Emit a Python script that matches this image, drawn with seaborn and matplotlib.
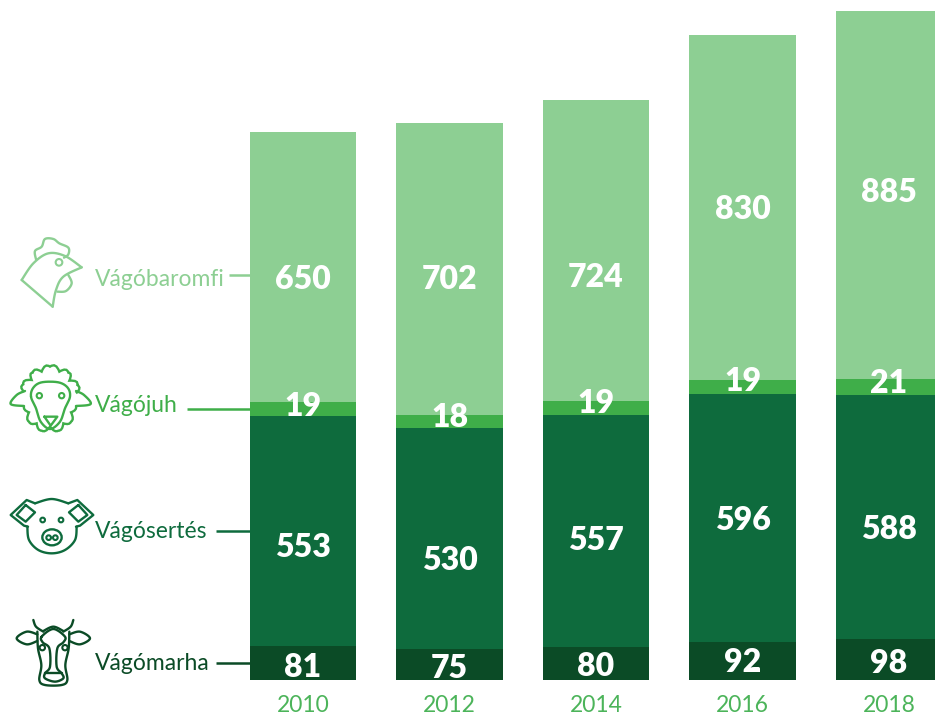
import matplotlib
matplotlib.use("Agg")
import numpy as np
import pandas as pd
import matplotlib.pyplot as plt
import seaborn as sns
from matplotlib.patches import Circle, Ellipse, PathPatch
from matplotlib.path import Path
from matplotlib.transforms import blended_transform_factory

YEARS = ["2010", "2012", "2014", "2016", "2018"]
MARHA = [81, 75, 80, 92, 98]
SERTES = [553, 530, 557, 596, 588]
JUH = [19, 18, 19, 19, 21]
# the reference draws the thin band thicker than its labels say
JUH_BAR = [34, 32, 34, 33, 37]
BAROMFI = [650, 702, 724, 830, 885]
SERIES_NAMES = ["Vágómarha", "Vágósertés", "Vágójuh", "Vágóbaromfi"]

C_MARHA = "#0B4B26"
C_SERTES = "#0E6B3D"
C_JUH = "#3FAE49"
C_BAROMFI = "#8DCF93"
COLORS = [C_MARHA, C_SERTES, C_JUH, C_BAROMFI]

# where the value labels sit, in image pixels (they are not centred in the segments)
LABEL_Y = {
    "Vágómarha": [665, 666, 664, 660, 661],
    "Vágósertés": [545, 558, 538, 518, 527],
    "Vágójuh": [404, 415, 401, 379, 381],
    "Vágóbaromfi": [277, 277, 275, 207, 190],
}

W, H = 935, 715
sns.set_theme(style="white")
plt.rcParams["font.family"] = ["Lato", "DejaVu Sans"]

fig = plt.figure(figsize=(W / 100, H / 100), dpi=100)
base_px = 680
ax = fig.add_axes([0, (H - base_px) / H, 1, base_px / H])

df = pd.DataFrame({"year": YEARS, "Vágómarha": MARHA, "Vágósertés": SERTES,
                   "Vágójuh": JUH_BAR, "Vágóbaromfi": BAROMFI})
bottom = np.zeros(len(YEARS))
for name, col in zip(SERIES_NAMES, COLORS):
    sns.barplot(data=df, x="year", y=name, bottom=bottom, color=col,
                saturation=1, width=0.724, linewidth=0, edgecolor="none", ax=ax)
    bottom = bottom + df[name].to_numpy()

# scale : 146.5 px per category, 0.416 px per unit
ax.set_xlim(-303 / 146.5, (W - 303) / 146.5)
ax.set_ylim(0, base_px / 0.416)
ax.set_xlabel("")
ax.set_ylabel("")
ax.set_yticks([])
ax.tick_params(axis="x", length=0, pad=11, labelsize=16.5, labelcolor="#4CB45A")
sns.despine(ax=ax, left=True, bottom=True, top=True, right=True)

# overlay in image pixels for the labels, leader lines and icons
ov = fig.add_axes([0, 0, 1, 1], facecolor="none")
ov.set_xlim(0, W)
ov.set_ylim(H, 0)
ov.axis("off")

trans = blended_transform_factory(ax.transData, ov.transData)
for name, vals in zip(SERIES_NAMES, [MARHA, SERTES, JUH, BAROMFI]):
    for i, v in enumerate(vals):
        ov.text(i, LABEL_Y[name][i], str(v), transform=trans, color="white",
                fontsize=23, fontweight="heavy", ha="center", va="center_baseline")

# series names and leader lines
for name, col, y, x0, ly in [
    ("Vágóbaromfi", C_BAROMFI, 278, 229, 275),
    ("Vágójuh", C_JUH, 404, 187, 408.5),
    ("Vágósertés", C_SERTES, 530, 216, 531),
    ("Vágómarha", C_MARHA, 661, 216, 663),
]:
    ov.text(95, y, name, color=col, fontsize=16.5, ha="left", va="center_baseline")
    ov.plot([x0, 250], [ly, ly], color=col, lw=1.8, solid_capstyle="butt")


def smooth(pts, closed=False):
    # Catmull-Rom through the points, coordinates are in 3x zoom units
    pts = np.array(pts, float)
    if closed:
        pts = np.vstack([pts[-1], pts, pts[0], pts[1]])
    else:
        pts = np.vstack([pts[0], pts, pts[-1]])
    out = []
    for a, b, c, d in zip(pts[:-3], pts[1:-2], pts[2:-1], pts[3:]):
        for t in np.linspace(0, 1, 12, endpoint=False):
            out.append(0.5 * (2 * b + (c - a) * t + (2 * a - 5 * b + 4 * c - d) * t**2
                              + (3 * b - a - 3 * c + d) * t**3))
    out.append(pts[-2])
    return np.array(out)


def stroke(pts, col, oy, curve=True, closed=False, lw=1.7):
    p = smooth(pts, closed) if curve else np.array(pts, float)
    ov.plot(p[:, 0] / 3, p[:, 1] / 3 + oy, color=col, lw=lw,
            solid_joinstyle="round", solid_capstyle="round")


def scallop(pts, center, col, oy, bulge=0.42, lw=1.7):
    pts = np.array(pts, float)
    verts, codes = [pts[0]], [Path.MOVETO]
    for a, b in zip(pts[:-1], pts[1:]):
        m = (a + b) / 2
        n = m - np.array(center)
        n = n / np.hypot(*n)
        verts += [m + n * np.hypot(*(b - a)) * bulge * 1.6, b]
        codes += [Path.CURVE3, Path.CURVE3]
    verts = [(v[0] / 3, v[1] / 3 + oy) for v in verts]
    ov.add_patch(PathPatch(Path(verts, codes), fc="none", ec=col, lw=lw))


def ring(x, y, r, col, oy, lw=1.5):
    ov.add_patch(Circle((x / 3, y / 3 + oy), r / 3, fc="none", ec=col, lw=lw))


# chicken
c, oy = C_BAROMFI, 225
stroke([(65, 165), (158, 245)], c, oy, curve=False)
stroke([(158, 245), (168, 195), (190, 155), (245, 127)], c, oy)
stroke([(245, 127), (195, 93), (145, 85), (100, 115), (65, 165)], c, oy)
stroke([(205, 150), (215, 175), (198, 198), (172, 200)], c, oy)
stroke([(108, 103), (105, 78), (125, 65), (135, 42), (160, 42), (178, 55), (205, 68), (205, 88), (192, 98)], c, oy)
ring(177, 112, 10, c, oy)

# sheep
c, oy = C_JUH, 225
scallop([(72, 500), (70, 478), (95, 465), (98, 443), (125, 440), (150, 425), (178, 440),
         (205, 443), (208, 467), (232, 480), (228, 505)], (150, 510), c, oy)
scallop([(228, 542), (213, 562), (213, 590), (190, 595), (175, 617), (150, 605), (125, 617),
         (110, 595), (87, 590), (87, 562), (72, 542)], (150, 530), c, oy, bulge=0.3)
stroke([(75, 498), (50, 510), (32, 537), (72, 543)], c, oy)
stroke([(228, 498), (252, 510), (272, 537), (228, 543)], c, oy)
stroke([(93, 515), (100, 488), (125, 472), (175, 472), (203, 488), (210, 515), (195, 550),
        (180, 590), (150, 612), (122, 590), (108, 550)], c, oy, closed=True)
stroke([(133, 575), (172, 575), (152, 602), (133, 575)], c, oy, curve=False)
ring(118, 512, 8, c, oy)
ring(185, 512, 8, c, oy)

# pig
c, oy = C_SERTES, 485
stroke([(105, 55), (155, 42), (205, 55)], c, oy)
stroke([(105, 55), (80, 45), (32, 90), (72, 122), (84, 125)], c, oy, curve=False)
stroke([(205, 55), (232, 45), (280, 90), (240, 122), (228, 125)], c, oy, curve=False)
stroke([(77, 60), (50, 90), (77, 110), (105, 82), (77, 60)], c, oy, curve=False)
stroke([(235, 60), (207, 82), (235, 110), (262, 90), (235, 60)], c, oy, curve=False)
stroke([(82, 125), (87, 165), (115, 195), (155, 205), (195, 195), (225, 165), (230, 125)], c, oy)
ring(128, 105, 7, c, oy)
ring(183, 105, 7, c, oy)
ov.add_patch(Ellipse((156 / 3, 157 / 3 + oy), 58 / 3, 48 / 3, fc="none", ec=c, lw=1.7))
ring(146, 158, 7, c, oy)
ring(166, 158, 7, c, oy)

# cow
c, oy = C_MARHA, 485
stroke([(100, 405), (108, 425), (130, 440)], c, oy)
stroke([(220, 405), (212, 425), (190, 440)], c, oy)
stroke([(130, 438), (160, 425), (190, 438)], c, oy)
stroke([(112, 448), (80, 440), (50, 460), (80, 478), (112, 468)], c, oy)
stroke([(208, 448), (240, 440), (270, 460), (240, 478), (208, 468)], c, oy)
stroke([(112, 440), (114, 490), (124, 540), (118, 585), (135, 600), (185, 600), (202, 585),
        (196, 540), (206, 490), (208, 440)], c, oy)
stroke([(125, 455), (160, 432), (195, 455), (190, 472), (172, 490), (170, 545), (185, 565),
        (190, 580), (165, 590), (135, 580), (135, 565), (150, 545), (148, 490), (128, 472)], c, oy, closed=True)
stroke([(135, 565), (185, 565)], c, oy, curve=False)
ring(127, 488, 8, c, oy)
ring(195, 488, 8, c, oy)

fig.savefig("out.png", dpi=100)
